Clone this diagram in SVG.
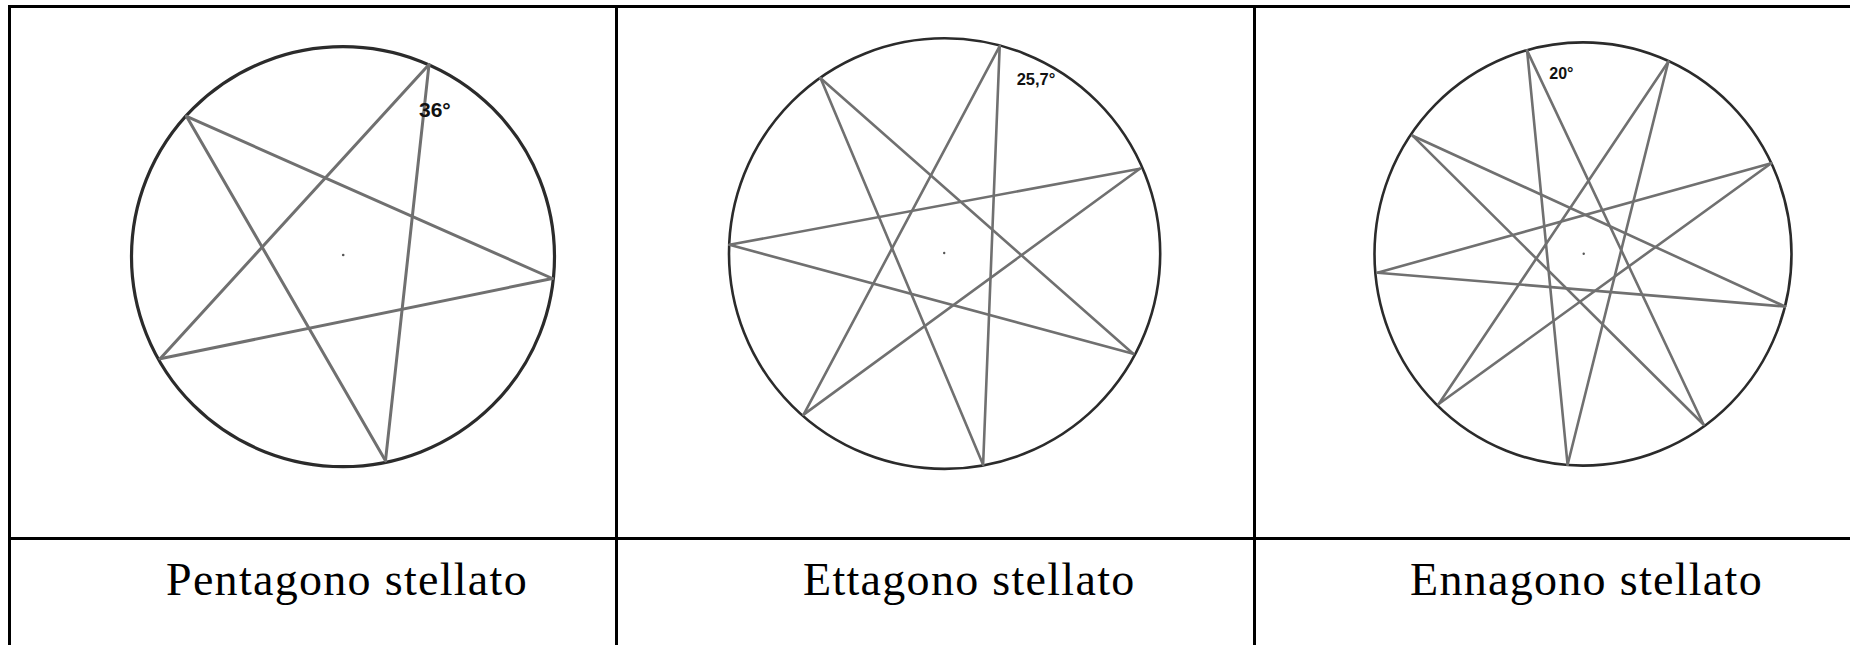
<svg xmlns="http://www.w3.org/2000/svg" width="1850" height="645" viewBox="0 0 1850 645">
<style>
.grid{stroke:#000;stroke-width:3;fill:none}
.circ{fill:none;stroke:#2b2b2b;stroke-width:2.6}
.star{fill:none;stroke:#707070;stroke-width:2.6;stroke-linecap:round}
.dot{fill:#555}
.ang{font-family:"Liberation Sans",Arial,sans-serif;font-weight:bold;fill:#111}
.cap{font-family:"Liberation Serif","Times New Roman",serif;font-size:46px;fill:#000;letter-spacing:1.3px}
</style>
<rect width="1850" height="645" fill="#fff"/>
<g id="table" class="grid">
<line x1="9.5" y1="6.5" x2="1850" y2="6.5"/>
<line x1="9.5" y1="5" x2="9.5" y2="645"/>
<line x1="616.5" y1="5" x2="616.5" y2="645"/>
<line x1="1254.5" y1="5" x2="1254.5" y2="645"/>
<line x1="8" y1="538.5" x2="1850" y2="538.5"/>
</g>
<g id="pentagono">
<ellipse class="circ" cx="343" cy="256.7" rx="211.5" ry="210" style="stroke-width:3.2"/>
<g class="star" style="stroke-width:3">
<line x1="429" y1="64.6" x2="160.1" y2="358.7"/>
<line x1="429" y1="64.6" x2="385.5" y2="460.7"/>
<line x1="186.6" y1="116.4" x2="552.4" y2="278.5"/>
<line x1="186.6" y1="116.4" x2="385.5" y2="460.7"/>
<line x1="552.4" y1="278.5" x2="160.1" y2="358.7"/>
</g>
<circle class="dot" cx="343.2" cy="255" r="1.3"/>
<text class="ang" x="419" y="116.5" font-size="21">36°</text>
<text class="cap" x="166" y="595">Pentagono stellato</text>
</g>
<g id="ettagono">
<ellipse class="circ" cx="944.6" cy="253.6" rx="215.6" ry="215.3"/>
<g class="star">
<line x1="999.7" y1="46.1" x2="983.1" y2="464.8"/>
<line x1="1139.8" y1="168.7" x2="803.6" y2="414.6"/>
<line x1="1133.2" y1="353.8" x2="729.4" y2="244.8"/>
<line x1="983.1" y1="464.8" x2="820.6" y2="78.2"/>
<line x1="803.6" y1="414.6" x2="999.7" y2="46.1"/>
<line x1="729.4" y1="244.8" x2="1139.8" y2="168.7"/>
<line x1="820.6" y1="78.2" x2="1133.2" y2="353.8"/>
</g>
<circle class="dot" cx="944.2" cy="253" r="1.2"/>
<text class="ang" x="1016.7" y="85" font-size="16.5">25,7°</text>
<text class="cap" x="803" y="595">Ettagono stellato</text>
</g>
<g id="ennagono">
<ellipse class="circ" cx="1583" cy="254" rx="208.5" ry="211.6"/>
<g class="star">
<line x1="1527.1" y1="50.6" x2="1703.5" y2="424.5"/>
<line x1="1668.3" y1="61.7" x2="1567.6" y2="464.8"/>
<line x1="1771.2" y1="163.3" x2="1438.7" y2="404"/>
<line x1="1785" y1="306.5" x2="1377.4" y2="272.7"/>
<line x1="1703.5" y1="424.5" x2="1412.6" y2="135.7"/>
<line x1="1567.6" y1="464.8" x2="1527.1" y2="50.6"/>
<line x1="1438.7" y1="404" x2="1668.3" y2="61.7"/>
<line x1="1377.4" y1="272.7" x2="1771.2" y2="163.3"/>
<line x1="1412.6" y1="135.7" x2="1785" y2="306.5"/>
</g>
<circle class="dot" cx="1583.7" cy="253.8" r="1.2"/>
<text class="ang" x="1549.3" y="79" font-size="16">20°</text>
<text class="cap" x="1410" y="595">Ennagono stellato</text>
</g>
</svg>
